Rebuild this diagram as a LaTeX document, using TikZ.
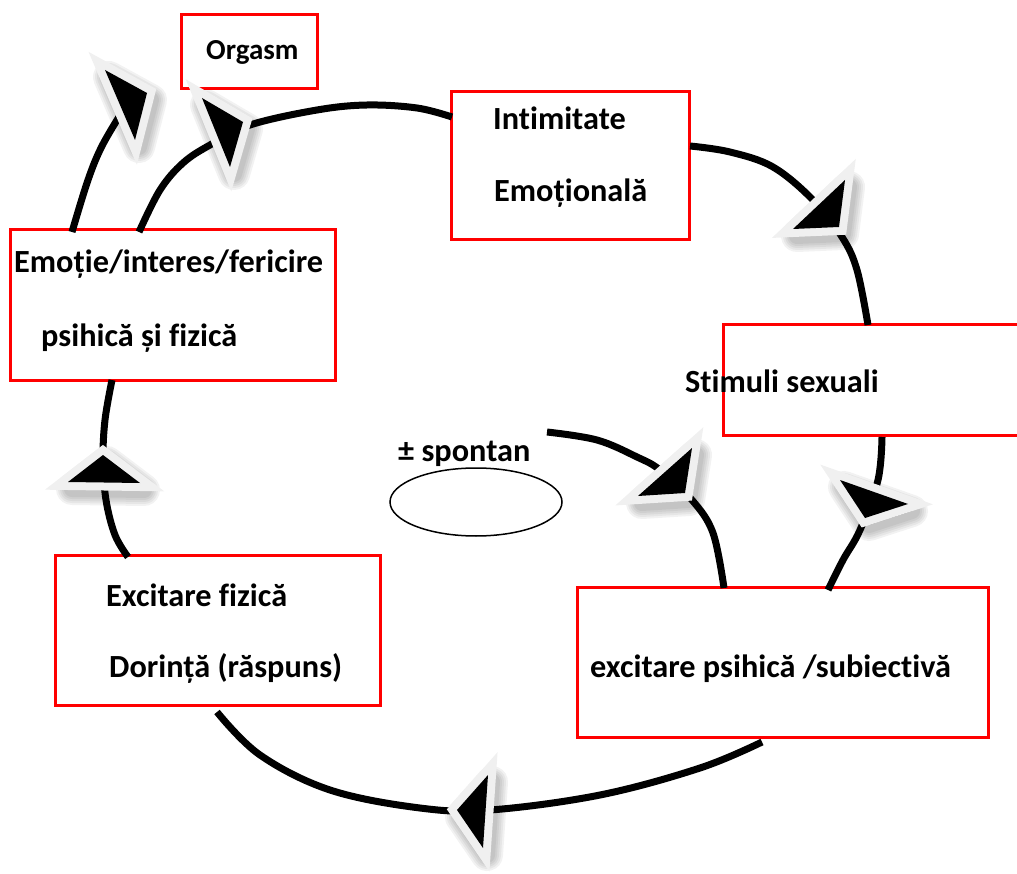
\documentclass[tikz,border=0pt]{standalone}
\usepackage{fontspec}
\setmainfont{Carlito}[Ligatures=NoCommon]
\definecolor{boxred}{HTML}{FF0000}
\definecolor{rimgrey}{HTML}{F0F0F0}
% arrowhead: soft shadow, pale rim, black core
\newcommand\ahead[3]{%
  \foreach \w in {16,20,24,28,32}{%
    \draw[headshade, line width=\w pt] ($#1+(4,7)$) -- ($#2+(4,7)$) -- ($#3+(4,7)$) -- cycle;}
  \fill[headshade] ($#1+(4,7)$) -- ($#2+(4,7)$) -- ($#3+(4,7)$) -- cycle;
  \draw[headrim] #1 -- #2 -- #3 -- cycle;
  \fill[black] #1 -- #2 -- #3 -- cycle;}
\usetikzlibrary{calc}
\begin{document}
\begin{tikzpicture}[x=1pt,y=-1pt,
  box/.style={draw=boxred, line width=3pt, fill=white, inner sep=0pt, outer sep=0pt},
  lbl/.style={font=\bfseries\fontsize{32.3}{38}\selectfont, anchor=base west, inner sep=0pt},
  flow/.style={line width=7pt, black},
  headrim/.style={draw=rimgrey, fill=rimgrey, line width=16pt, line join=miter},
  headshade/.style={draw=black, fill=black, opacity=0.05, line join=round}]
\useasboundingbox (0,0) rectangle (1017,874);
\clip (0,0) rectangle (1017,874);

% boxes
\node[box, minimum width=136pt, minimum height=74pt]  (orgasm)  at (249,52) {};
\node[box, minimum width=238pt, minimum height=148pt] (intim)   at (570,166) {};
\node[box, minimum width=325pt, minimum height=150pt] (emotie)  at (172.5,305) {};
\node[box, minimum width=307pt, minimum height=110pt] (stimuli) at (876.5,380) {};
\node[box, minimum width=325pt, minimum height=150pt] (fizica)  at (217.5,630) {};
\node[box, minimum width=411pt, minimum height=150pt] (psihica) at (782.5,662) {};
\draw[line width=1.5pt] (476,502) ellipse [x radius=86, y radius=34];
\node[inner sep=0pt, minimum width=172pt, minimum height=68pt] (spont) at (476,502) {};

% connector end points on the box edges
\coordinate (a0) at (72,232);   \coordinate (a1) at (122,112);
\coordinate (b0) at (139,232);  \coordinate (b1) at (452,117);
\coordinate (c0) at (690,146);  \coordinate (c1) at (868,325);
\coordinate (d0) at (882,437);  \coordinate (d1) at (828,590);
\coordinate (e0) at (547,432);  \coordinate (e1) at (724,588);
\coordinate (f0) at (762,742);  \coordinate (f1) at (217,712);
\coordinate (g0) at (128,557);  \coordinate (g1) at (112,380);

% connectors
\draw[flow] plot[smooth, tension=0.6] coordinates {(a0) (88,180) (102,146) (122,112)};
\draw[flow] plot[smooth, tension=0.6] coordinates {(b0) (160,190) (183,163) (210,145) (250,125) (317,110) (367,105) (417,108) (b1)};
\draw[flow] plot[smooth, tension=0.6] coordinates {(c0) (730,152) (773,167) (813,200) (842,237) (857,270) (c1)};
\draw[flow] plot[smooth, tension=0.6] coordinates {(d0) (878,480) (860,530) (843,560) (d1)};
\draw[flow] plot[smooth, tension=0.6] coordinates {(e0) (597,440) (637,457) (660,470) (692,500) (713,533) (e1)};
\draw[flow] plot[smooth, tension=0.6] coordinates {(f0) (700,768) (600,795) (490,810) (420,808) (330,790) (260,755) (f1)};
\draw[flow] plot[smooth, tension=0.6] coordinates {(g0) (115,535) (106,500) (103,460) (105,420) (g1)};

% arrowheads
\ahead{(105,70)}{(147,93)}{(135,140)}
\ahead{(202,98)}{(243,122)}{(230,167)}
\ahead{(845,180)}{(793,229)}{(839,227)}
\ahead{(840,480)}{(908,504)}{(865,518)}
\ahead{(692,448)}{(638,496)}{(685,493)}
\ahead{(488,775)}{(457,810)}{(483,848)}
\ahead{(103,455)}{(68,482)}{(140,483)}

% labels
\node[lbl, font=\bfseries\fontsize{29}{35}\selectfont] (tOrg) at (206,60) {Orgasm};
\node[lbl] (tInt1) at (493,130) {Intimitate};
\node[lbl] (tInt2) at (494,202) {Emoțională};
\node[lbl] (tEm1) at (14,273) {Emoție/interes/fericire};
\node[lbl] (tEm2) at (41,347) {psihică și fizică};
\node[lbl] (tSt) at (685,392) {Stimuli sexuali};
\node[lbl] (tSp) at (398,461) {± spontan};
\node[lbl] (tFz1) at (106,606) {Excitare fizică};
\node[lbl] (tFz2) at (109,677) {Dorință (răspuns)};
\node[lbl] (tPs) at (590,677) {excitare psihică /subiectivă};
\end{tikzpicture}
\end{document}
